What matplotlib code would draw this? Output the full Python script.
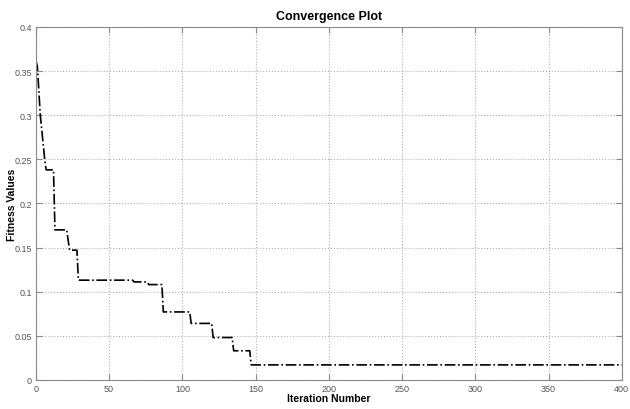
import matplotlib
matplotlib.use('Agg')
import matplotlib.pyplot as plt

# best fitness per iteration (corner points only)
iteration = [0, 1, 3, 6, 7, 12, 13, 21, 23, 28, 29, 66, 67, 76, 77, 86, 87,
             105, 106, 120, 121, 134, 135, 146, 147, 400]
fitness = [0.362, 0.355, 0.300, 0.250, 0.238, 0.238, 0.170, 0.170, 0.147, 0.147,
           0.113, 0.113, 0.111, 0.111, 0.108, 0.108, 0.077, 0.077, 0.064, 0.064,
           0.048, 0.048, 0.033, 0.033, 0.017, 0.017]

xticks = [0, 50, 100, 150, 200, 250, 300, 350, 400]
yticks = [0, 0.05, 0.1, 0.15, 0.2, 0.25, 0.3, 0.35, 0.4]
yticklabels = ['0', '0.05', '0.1', '0.15', '0.2', '0.25', '0.3', '0.35', '0.4']

plt.rcParams['font.family'] = ['Liberation Sans', 'DejaVu Sans']

fig = plt.figure(figsize=(6.3, 4.1), dpi=100)
ax = fig.add_axes([0.057, 0.071, 0.930, 0.861])

ax.plot(iteration, fitness, color='black', linestyle='-.', linewidth=1.2)

ax.set_xlim(0, 400)
ax.set_ylim(0, 0.4)
ax.set_xticks(xticks)
ax.set_yticks(yticks)
ax.set_yticklabels(yticklabels)
ax.grid(True, linestyle=':', color='#b0b0b0', linewidth=0.8)

for s in ax.spines.values():
    s.set_color('#8a8a8a')
ax.tick_params(direction='in', top=True, right=True, length=4, width=0.8,
               color='#8a8a8a', labelsize=6.5, labelcolor='#555555', pad=3)

ax.set_title('Convergence Plot', fontsize=9, fontweight='bold', pad=6)
ax.set_xlabel('Iteration Number', fontsize=7.5, fontweight='bold', labelpad=0)
ax.set_ylabel('Fitness Values', fontsize=7.5, fontweight='bold')
ax.yaxis.set_label_coords(-0.032, 0.5)

plt.savefig('out.png', dpi=100)
